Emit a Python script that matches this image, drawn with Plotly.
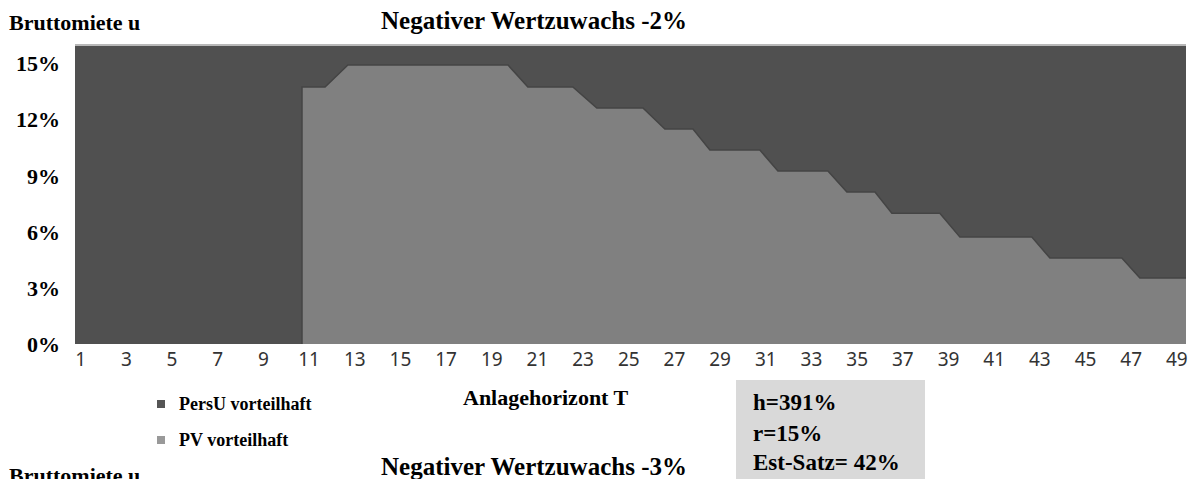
import plotly.graph_objects as go

# ---- data ----
# Anlagehorizont T (x) and Bruttomiete u in % (y) along the border between the regions
horizont_grenze = [10.69, 10.69, 11.7, 12.7, 19.71, 20.58, 22.55, 23.6, 25.62, 26.58,
                   27.81, 28.55, 30.74, 31.53, 33.72, 34.55, 35.78, 36.52, 38.62, 39.5,
                   42.65, 43.44, 46.59, 47.38, 49.4]
miete_grenze = [0.0, 13.75, 13.75, 14.93, 14.93, 13.75, 13.75, 12.63, 12.63, 11.5,
                11.5, 10.38, 10.38, 9.26, 9.26, 8.13, 8.13, 7.0, 7.0, 5.72,
                5.72, 4.6, 4.6, 3.53, 3.53]
horizont_bereich = [0.75, 49.4]
miete_max = [16.0, 16.0]

x_ticks = list(range(1, 50, 2))
y_ticks = [0, 3, 6, 9, 12, 15]
y_labels = [f"{v}%" for v in y_ticks]
serien = ["PersU vorteilhaft", "PV vorteilhaft"]
farben = ["#505050", "#808080"]
legend_farben = ["#555555", "#999999"]
info = ["h=391%", "r=15%", "Est-Satz= 42%"]

SERIF = "Liberation Serif"
OFF = 8                      # page body margin of the html page
W, H = 1196 - OFF, 479 - OFF
L, R, T, B = 75 - OFF, 10, 45 - OFF, 135
pw, ph = W - L - R, H - T - B


def px(xp):          # reference pixel x -> paper
    return (xp - OFF - L) / pw


def py(yp):          # reference pixel y -> paper
    return (H - B - (yp - OFF)) / ph


fig = go.Figure()
# PersU region (everything above the border)
fig.add_trace(go.Scatter(x=horizont_bereich, y=miete_max, fill="tozeroy", mode="none",
                         fillcolor=farben[0], showlegend=False, hoverinfo="skip"))
# PV region (below the border)
fig.add_trace(go.Scatter(x=horizont_grenze, y=miete_grenze, fill="tozeroy", mode="lines",
                         line=dict(color="#444444", width=1.5), fillcolor=farben[1],
                         showlegend=False, hoverinfo="skip"))

annotations = [
    dict(text="<b>Bruttomiete u</b>", x=px(7), y=py(22), xanchor="left", yanchor="middle",
         font=dict(family=SERIF, size=22, color="black")),
    dict(text="<b>Negativer Wertzuwachs -2%</b>", x=px(534), y=py(20), xanchor="center",
         yanchor="middle", font=dict(family=SERIF, size=25, color="black")),
    dict(text="<b>Anlagehorizont T</b>", x=px(546), y=py(397), xanchor="center",
         yanchor="middle", font=dict(family=SERIF, size=22, color="black")),
    dict(text="<b>Negativer Wertzuwachs -3%</b>", x=px(534), y=py(466), xanchor="center",
         yanchor="middle", font=dict(family=SERIF, size=25, color="black")),
    dict(text="<b>Bruttomiete u</b>", x=px(7), y=py(475), xanchor="left", yanchor="middle",
         font=dict(family=SERIF, size=22, color="black")),
]
for t, yp in zip(info, [402, 433, 462]):
    annotations.append(dict(text=f"<b>{t}</b>", x=px(751), y=py(yp), xanchor="left",
                            yanchor="middle",
                            font=dict(family=SERIF, size=23, color="black")))

shapes = [
    dict(type="rect", xref="paper", yref="paper", x0=px(736), x1=px(925), y0=py(485),
         y1=py(380), fillcolor="#d9d9d9", line=dict(width=0), layer="below"),
    dict(type="line", xref="paper", yref="paper", x0=0, x1=1, y0=1, y1=1,
         line=dict(color="#b8b8b8", width=2)),
]
# legend: square keys + labels
for name, col, yp in zip(serien, legend_farben, [404, 440]):
    shapes.append(dict(type="rect", xref="paper", yref="paper", x0=px(157), x1=px(165),
                       y0=py(yp + 4), y1=py(yp - 4), fillcolor=col, line=dict(width=0)))
    annotations.append(dict(text=f"<b>{name}</b>", x=px(177), y=py(yp), xanchor="left",
                            yanchor="middle",
                            font=dict(family=SERIF, size=18, color="black")))

for a in annotations:
    a.update(xref="paper", yref="paper", showarrow=False)

fig.update_layout(
    width=W, height=H, margin=dict(l=L, r=R, t=T, b=B),
    paper_bgcolor="white", plot_bgcolor="white",
    annotations=annotations, shapes=shapes, showlegend=False,
    xaxis=dict(range=horizont_bereich, tickvals=x_ticks, showgrid=False, zeroline=False,
               showline=False, ticks="", automargin=False, ticklabelstandoff=2,
               ticklabeloverflow="allow",
               tickfont=dict(family="Noto Sans", size=19, color="#333333")),
    yaxis=dict(range=[0, 16], tickvals=y_ticks, ticktext=[f"<b>{s}</b>" for s in y_labels],
               showgrid=False, zeroline=False, showline=False, ticks="", automargin=False,
               ticklabelstandoff=14,
               tickfont=dict(family=SERIF, size=22, color="black")),
)

fig.write_html("out.html")
